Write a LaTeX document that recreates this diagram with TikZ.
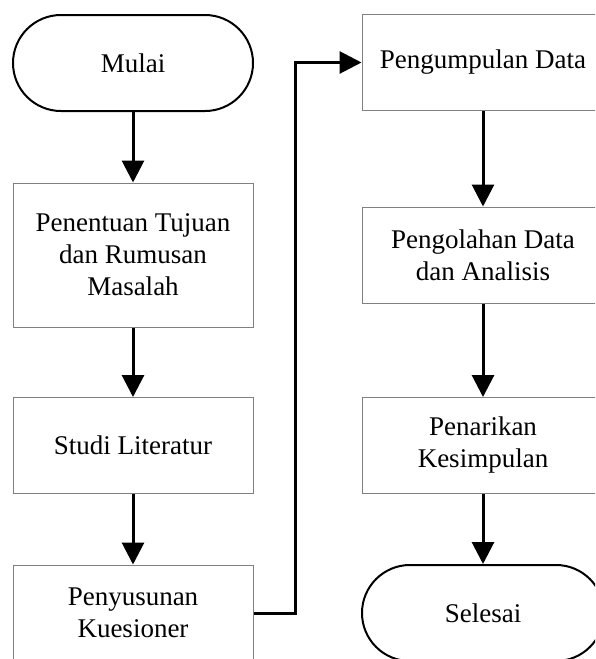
\documentclass[tikz,border=0pt]{standalone}
\usepackage{fontspec}
\setmainfont{Liberation Serif}
\usetikzlibrary{arrows.meta}
\tikzset{terminal/.style={draw=black,line width=1pt,rounded corners=24pt,minimum width=120pt,minimum height=48pt,align=center,font=\fontsize{13.5}{16}\selectfont},
proses/.style={draw=gray,line width=0.5pt,minimum width=120pt,minimum height=48pt,align=center,font=\fontsize{13.5}{16}\selectfont},
alur/.style={-{Triangle[length=11pt,width=11pt]},line width=1.5pt}}

\begin{document}
\begin{tikzpicture}[x=0.5pt,y=-0.5pt]
\useasboundingbox (0,0) rectangle (595,659);
\clip (0,0) rectangle (595,659);
% kolom kiri
\node[terminal] (mulai) at (133,63) {Mulai};
\node[proses,minimum height=72pt] (tujuan) at (133,255) {Penentuan Tujuan\\dan Rumusan\\Masalah};
\node[proses] (studi) at (133,445.5) {Studi Literatur};
\node[proses] (kuesioner) at (133,613) {Penyusunan\\Kuesioner};
% kolom kanan
\node[proses,minimum width=121pt] (kumpul) at (483,62.5) {Pengumpulan Data};
\node[proses,minimum width=121pt] (olah) at (483,255) {Pengolahan Data\\dan Analisis};
\node[proses,minimum width=121pt] (tarik) at (483,445.5) {Penarikan\\Kesimpulan};
\node[terminal,minimum width=121pt] (selesai) at (483,613) {Selesai};
% panah
\draw[alur] (mulai) -- (tujuan);
\draw[alur] (tujuan) -- (studi);
\draw[alur] (studi) -- (kuesioner);
\draw[alur] (kuesioner.east) -- ++(42,0) |- (kumpul.west);
\draw[alur] (kumpul) -- (olah);
\draw[alur] (olah) -- (tarik);
\draw[alur] (tarik) -- (selesai);
\end{tikzpicture}
\end{document}
